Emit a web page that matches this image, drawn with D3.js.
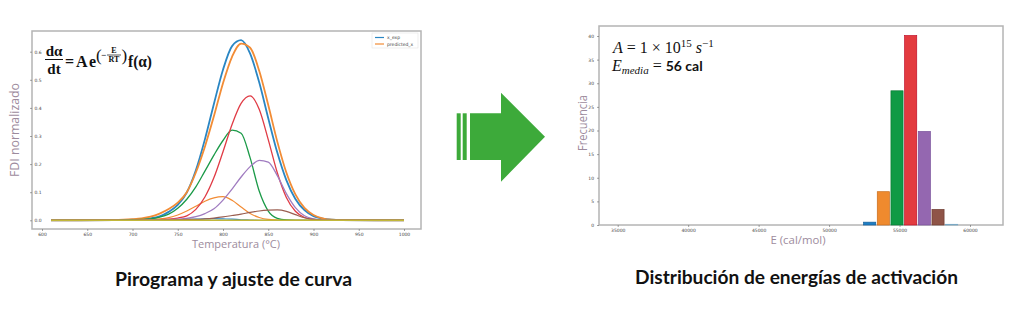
<!DOCTYPE html>
<html><head><meta charset="utf-8">
<script src="https://cdn.jsdelivr.net/npm/d3@7"></script>
<style>
html,body{margin:0;padding:0;background:#fff;}
svg{display:block;}
</style></head>
<body>
<svg id="c" width="1024" height="315"></svg>
<script>
// ---------- DATA ----------
const tempC = [610,680,690,700,710,720,730,740,750,760,770,780,790,800,810,820,830,840,850,860,870,880,890,900,910,920,930,1000];
const xExp      = [0,0.0005,0.001,0.002,0.004,0.007,0.014,0.030,0.055,0.099,0.178,0.288,0.415,0.536,0.620,0.641,0.593,0.491,0.363,0.241,0.143,0.076,0.036,0.015,0.006,0.002,0.0005,0];
const predicted = [0,0.001,0.002,0.004,0.007,0.013,0.024,0.040,0.063,0.100,0.170,0.262,0.371,0.488,0.582,0.629,0.614,0.532,0.410,0.280,0.170,0.092,0.044,0.019,0.007,0.002,0.001,0];
const compBlue   = [0,0,0,0,0,0,0.001,0.001,0.002,0.003,0.004,0.005,0.006,0.005,0.004,0.002,0.001,0,0,0,0,0,0,0,0,0,0,0];
const compOrange = [0,0,0.001,0.001,0.002,0.003,0.005,0.0095,0.019,0.033,0.050,0.068,0.080,0.084,0.071,0.047,0.024,0.010,0.003,0.001,0,0,0,0,0,0,0,0];
const compGreen  = [0,0,0.001,0.002,0.003,0.005,0.011,0.022,0.043,0.075,0.119,0.175,0.232,0.284,0.321,0.310,0.222,0.104,0.033,0.007,0.001,0,0,0,0,0,0,0];
const compRed    = [0,0,0,0,0.001,0.001,0.002,0.004,0.008,0.016,0.039,0.083,0.152,0.244,0.341,0.416,0.443,0.395,0.287,0.169,0.081,0.032,0.010,0.003,0.001,0,0,0];
const compPurple = [0,0,0,0,0,0.001,0.001,0.002,0.004,0.007,0.013,0.024,0.041,0.072,0.111,0.154,0.191,0.213,0.207,0.159,0.095,0.045,0.016,0.005,0.001,0,0,0];
const compBrown  = [0,0,0,0,0,0.001,0.001,0.002,0.002,0.003,0.003,0.005,0.008,0.012,0.017,0.022,0.028,0.033,0.036,0.037,0.032,0.020,0.009,0.003,0.001,0,0,0];
const compOlive  = [0,0,0,0,0,0,0,0,0,0,0,0,0,0,0,0,0,0,0,0,0,0,0,0,0,0,0,0];
const tempTicks = [600,650,700,750,800,850,900,950,1000];
const fdiTicks  = [0,0.1,0.2,0.3,0.4,0.5,0.6];

const energyBins = [52880,53850,54820,55790,56760,57730,58700];
const frequency  = [0.6,7.05,28.4,40.1,19.8,3.3,0.15];
const energyTicks = [35000,40000,45000,50000,55000,60000];
const freqTicks   = [0,5,10,15,20,25,30,35,40];

// ---------- SETUP ----------
const svg = d3.select("#c");
const tickFont = "DejaVu Sans, sans-serif";
const labelCol = "#9d8b9d";

// ---------- LEFT CHART ----------
const xL = d3.scaleLinear().domain([600,1000]).range([42,404]);
const yL = d3.scaleLinear().domain([0,0.6]).range([220.3,51.7]);

svg.append("rect").attr("x",32).attr("y",31).attr("width",389).attr("height",198)
  .attr("fill","none").attr("stroke","#b4b4b4").attr("stroke-width",1.5);

const axL = svg.append("g").attr("transform","translate(0,229)")
  .call(d3.axisBottom(xL).tickValues(tempTicks).tickSize(2).tickPadding(1).tickFormat(d3.format("d")));
const ayL = svg.append("g").attr("transform","translate(32,0)")
  .call(d3.axisLeft(yL).tickValues(fdiTicks).tickSize(2).tickFormat(d3.format(".1f")));
[axL,ayL].forEach(a=>{
  a.select(".domain").remove();
  a.selectAll(".tick line").attr("stroke","#666").attr("stroke-width",0.6);
  a.selectAll(".tick text").attr("font-size",4.5).attr("font-family",tickFont).attr("fill","#444");
});
axL.selectAll(".tick text").attr("dy","0.8em");
ayL.selectAll(".tick text").attr("x",6).attr("text-anchor","middle");

const seriesL = [
  {v:xExp,c:"#2a86c3",w:1.8},
  {v:predicted,c:"#f28c35",w:1.8},
  {v:compBlue,c:"#2a86c3",w:1.2},
  {v:compOrange,c:"#f28c35",w:1.2},
  {v:compGreen,c:"#1b9a48",w:1.3},
  {v:compRed,c:"#e03b45",w:1.3},
  {v:compPurple,c:"#a07cc0",w:1.3},
  {v:compBrown,c:"#9a5e50",w:1.2},
  {v:compOlive,c:"#c2b83a",w:1.5}
];
const line = d3.line().x((d,i)=>xL(tempC[i])).y(d=>yL(d)).curve(d3.curveMonotoneX);
seriesL.forEach(s=>{
  svg.append("path").attr("d",line(s.v)).attr("fill","none")
    .attr("stroke",s.c).attr("stroke-width",s.w);
});

// legend
const lg = svg.append("g");
lg.append("rect").attr("x",372).attr("y",33).attr("width",46).attr("height",15)
  .attr("fill","#fff").attr("stroke","#e4e4e4").attr("stroke-width",0.6);
[["x_exp","#2a86c3",37.5],["predicted_x","#f28c35",44]].forEach(([t,c,y])=>{
  lg.append("line").attr("x1",375).attr("x2",384).attr("y1",y).attr("y2",y).attr("stroke",c).attr("stroke-width",1.2);
  lg.append("text").attr("x",387).attr("y",y+1.5).attr("font-size",4.5).attr("font-family",tickFont).attr("fill","#444").text(t);
});

// formula
const ff = "Liberation Serif, DejaVu Serif, serif";
const fm = svg.append("g").attr("font-family",ff).attr("font-weight","bold").attr("fill","#111");
fm.append("text").attr("x",54).attr("y",56).attr("text-anchor","middle").attr("font-size",15).text("dα");
fm.append("line").attr("x1",45).attr("x2",63).attr("y1",59.5).attr("y2",59.5).attr("stroke","#111").attr("stroke-width",1);
fm.append("text").attr("x",54).attr("y",74).attr("text-anchor","middle").attr("font-size",15).text("dt");
fm.append("text").attr("x",65).attr("y",67).attr("font-size",16).text("=");
fm.append("text").attr("x",76).attr("y",67).attr("font-size",16).text("A");
fm.append("text").attr("x",89).attr("y",67).attr("font-size",16).text("e");
fm.append("text").attr("x",96).attr("y",61).attr("font-size",17).attr("font-weight","normal").text("(");
fm.append("text").attr("x",101).attr("y",58).attr("font-size",9).text("−");
fm.append("text").attr("x",114).attr("y",53).attr("text-anchor","middle").attr("font-size",8).text("E");
fm.append("line").attr("x1",107).attr("x2",121).attr("y1",55).attr("y2",55).attr("stroke","#111").attr("stroke-width",0.7);
fm.append("text").attr("x",114).attr("y",62).attr("text-anchor","middle").attr("font-size",8).text("RT");
fm.append("text").attr("x",121.5).attr("y",61).attr("font-size",17).attr("font-weight","normal").text(")");
fm.append("text").attr("x",128).attr("y",67).attr("font-size",16)
  .attr("textLength",24).attr("lengthAdjust","spacingAndGlyphs").text("f(α)");

// axis titles
svg.append("text").attr("x",236).attr("y",248).attr("text-anchor","middle")
  .attr("font-family","Open Sans, sans-serif").attr("font-size",11).attr("fill",labelCol)
  .attr("textLength",88).attr("lengthAdjust","spacingAndGlyphs").text("Temperatura (°C)");
svg.append("text").attr("transform","translate(19,130) rotate(-90)").attr("text-anchor","middle")
  .attr("font-family","Open Sans, sans-serif").attr("font-size",12).attr("fill",labelCol)
  .attr("textLength",94).attr("lengthAdjust","spacingAndGlyphs").text("FDI normalizado");

// ---------- ARROW ----------
const ag = svg.append("g").attr("fill","#3daa3a");
ag.append("rect").attr("x",456.7).attr("y",113.3).attr("width",4).attr("height",46.7);
ag.append("rect").attr("x",462.7).attr("y",113.3).attr("width",4).attr("height",46.7);
ag.append("polygon").attr("points","470,113.3 501,113.3 501,92.7 545,136.7 501,181.7 501,160 470,160");

// ---------- RIGHT CHART ----------
const xR = d3.scaleLinear().domain([35000,60000]).range([617.7,970]);
const yR = d3.scaleLinear().domain([0,40]).range([225,36]);
const binW = 860;
const barCols = ["#1f7fc4","#ef8a2e","#0f9a45","#e33b3f","#9467b0","#8f5447","#9fc6dc"];
const barEdge = ["#16609a","#c96c1a","#0b7a35","#c0102a","#78509a","#6e3d33","#7aa8c4"];

svg.append("rect").attr("x",599).attr("y",26).attr("width",404).attr("height",199)
  .attr("fill","none").attr("stroke","#b4b4b4").attr("stroke-width",1.5);

svg.selectAll(".bar").data(frequency).enter().append("rect")
  .attr("x",(d,i)=>xR(energyBins[i]-binW/2))
  .attr("width",(d,i)=>xR(energyBins[i]+binW/2)-xR(energyBins[i]-binW/2))
  .attr("y",d=>yR(d)).attr("height",d=>yR(0)-yR(d))
  .attr("fill",(d,i)=>barCols[i]).attr("stroke",(d,i)=>barEdge[i]).attr("stroke-width",0.7);

const axR = svg.append("g").attr("transform","translate(0,225)")
  .call(d3.axisBottom(xR).tickValues(energyTicks).tickSize(2).tickPadding(1).tickFormat(d3.format("d")));
const ayR = svg.append("g").attr("transform","translate(599,0)")
  .call(d3.axisLeft(yR).tickValues(freqTicks).tickSize(2).tickFormat(d3.format("d")));
[axR,ayR].forEach(a=>{
  a.select(".domain").remove();
  a.selectAll(".tick line").attr("stroke","#666").attr("stroke-width",0.6);
  a.selectAll(".tick text").attr("font-size",4.5).attr("font-family",tickFont).attr("fill","#444");
});
axR.selectAll(".tick text").attr("dy","0.8em");

// annotation
const an = svg.append("g").attr("fill","#111");
const a1 = an.append("text").attr("x",613).attr("y",53).attr("font-size",16).attr("font-family",ff);
a1.append("tspan").attr("font-style","italic").text("A");
a1.append("tspan").text(" = 1 × 10");
a1.append("tspan").attr("font-size",11).attr("dy",-6).text("15");
a1.append("tspan").attr("font-style","italic").attr("dy",6).text(" s");
a1.append("tspan").attr("font-size",11).attr("dy",-6).text("−1");
const a2 = an.append("text").attr("x",612).attr("y",71).attr("font-size",16).attr("font-family",ff);
a2.append("tspan").attr("font-style","italic").text("E");
a2.append("tspan").attr("font-style","italic").attr("font-size",11).attr("dy",3).text("media");
a2.append("tspan").attr("dy",-3).text(" = ");
a2.append("tspan").attr("font-family","Lato, Open Sans, sans-serif").attr("font-weight","bold").attr("font-size",14).text("56 cal");

svg.append("text").attr("x",798).attr("y",244).attr("text-anchor","middle")
  .attr("font-family","Open Sans, sans-serif").attr("font-size",11).attr("fill",labelCol)
  .attr("textLength",55).attr("lengthAdjust","spacingAndGlyphs").text("E (cal/mol)");
svg.append("text").attr("transform","translate(587,123) rotate(-90)").attr("text-anchor","middle")
  .attr("font-family","Open Sans, sans-serif").attr("font-size",12).attr("fill",labelCol)
  .attr("textLength",56).attr("lengthAdjust","spacingAndGlyphs").text("Frecuencia");

// ---------- CAPTIONS ----------
svg.append("text").attr("x",115).attr("y",286).attr("font-family","Lato, Open Sans, sans-serif")
  .attr("font-weight","bold").attr("font-size",19).attr("fill","#111")
  .attr("textLength",237).attr("lengthAdjust","spacingAndGlyphs").text("Pirograma y ajuste de curva");
svg.append("text").attr("x",635).attr("y",284).attr("font-family","Lato, Open Sans, sans-serif")
  .attr("font-weight","bold").attr("font-size",19).attr("fill","#111")
  .attr("textLength",323).attr("lengthAdjust","spacingAndGlyphs").text("Distribución de energías de activación");
</script>
</body></html>
